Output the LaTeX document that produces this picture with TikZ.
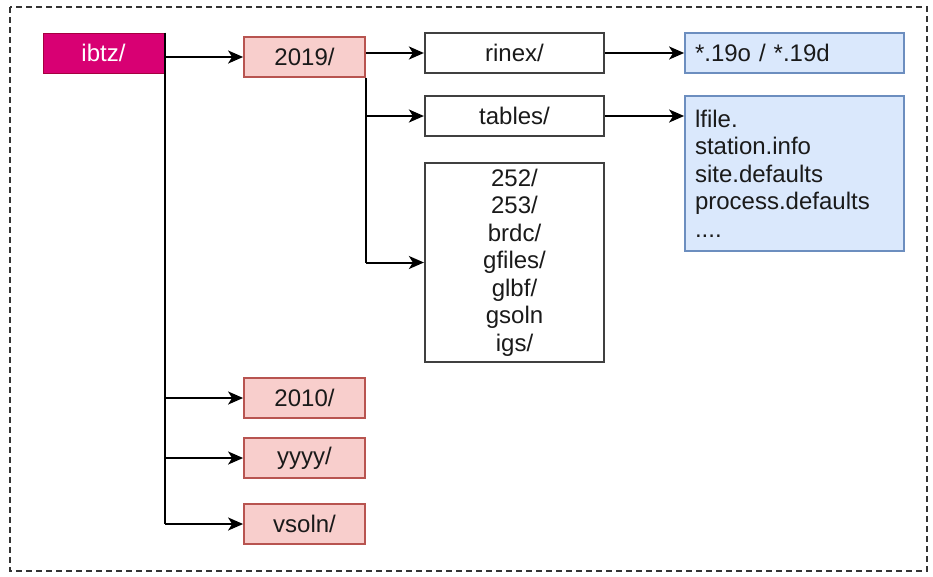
\documentclass[tikz,border=0pt]{standalone}
\usepackage{fontspec}
\setmainfont{Liberation Sans}
\usetikzlibrary{arrows.meta}

\definecolor{rootfill}{HTML}{D80073}
\definecolor{rootline}{HTML}{A50040}
\definecolor{yearfill}{HTML}{F8CECC}
\definecolor{yearline}{HTML}{B85450}
\definecolor{filefill}{HTML}{DAE8FC}
\definecolor{fileline}{HTML}{6C8EBF}
\definecolor{ink}{HTML}{1A1A1A}

\tikzset{
  box/.style={rectangle, font=\fontsize{24}{27.5}\selectfont, text=ink, inner sep=0pt, minimum height=40pt},
  rootbox/.style={box, fill=rootfill, draw=rootline, line width=1pt, text=white, minimum width=121pt},
  yearbox/.style={box, fill=yearfill, draw=yearline, line width=1.8pt, minimum width=121pt},
  dirbox/.style={box, fill=white, draw=black!75, line width=2.2pt, minimum width=179pt, align=center},
  filebox/.style={box, fill=filefill, draw=fileline, line width=1.8pt, inner xsep=10pt, text width=199pt, align=left},
  line/.style={draw=black, line width=2pt},
  arr/.style={line, -{Stealth[length=15pt, width=13pt, inset=4pt]}}
}

\begin{document}
\begin{tikzpicture}[x=1pt, y=-1pt]
\useasboundingbox (0,0) rectangle (933,576);
\draw[black!80, line width=2pt, dash pattern=on 6pt off 4pt] (10,7) rectangle (927,571);

\node[rootbox] (ibtz) at (103.5,53) {ibtz/};
\node[yearbox] (y2019) at (304.5,57) {2019/};
\node[yearbox] (y2010) at (304.5,398) {2010/};
\node[yearbox] (yyyy) at (304.5,458) {yyyy/};
\node[yearbox] (vsoln) at (304.5,524) {vsoln/};

\node[dirbox] (rinex) at (514.5,53) {rinex/};
\node[dirbox] (tables) at (514.5,116) {tables/};
\node[dirbox, minimum height=199pt] (days) at (514.5,262.5) {252/\\253/\\brdc/\\gfiles/\\glbf/\\gsoln\\igs/};

\node[filebox] (obs) at (794.5,53) {*.19o / *.19d};
\node[filebox, minimum height=155pt] (tabfiles) at (794.5,173.5) {lfile.\\station.info\\site.defaults\\process.defaults\\....};

% ibtz/ tree
\draw[line] (ibtz.north east) -- (ibtz.east |- vsoln);
\draw[arr] (ibtz.east |- y2019) -- (y2019);
\foreach \n in {y2010, yyyy, vsoln}
  \draw[arr] (ibtz.east |- \n) -- (\n);

% 2019/ tree
\draw[line] (y2019.south east) -- (y2019.east |- days);
\draw[arr] (y2019.east |- rinex) -- (rinex);
\draw[arr] (y2019.east |- tables) -- (tables);
\draw[arr] (y2019.east |- days) -- (days);

\draw[arr] (rinex) -- (obs);
\draw[arr] (tables) -- (tables -| tabfiles.west);

\end{tikzpicture}
\end{document}
